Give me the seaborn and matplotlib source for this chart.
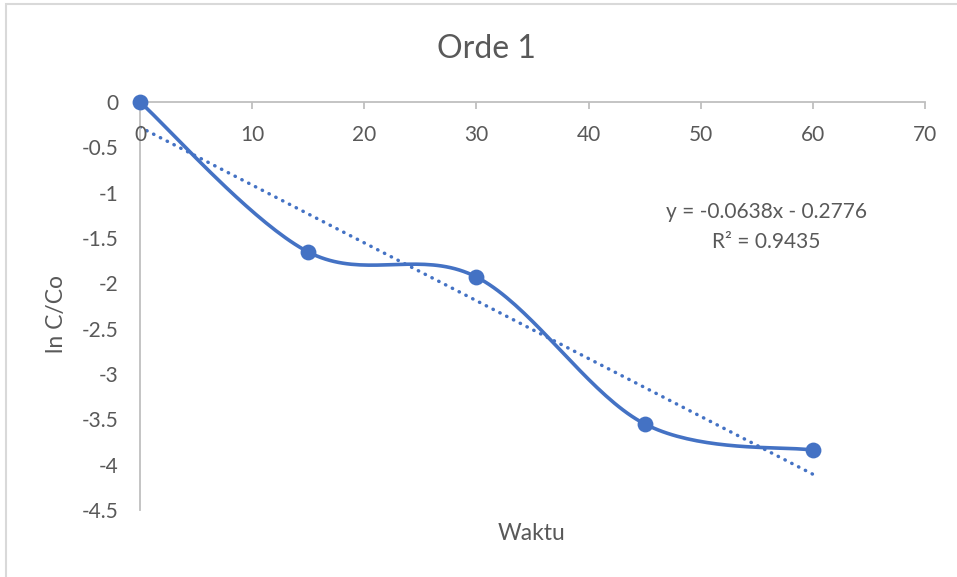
import numpy as np
import pandas as pd
import matplotlib
matplotlib.use("Agg")
import matplotlib.pyplot as plt
import seaborn as sns

# Data
waktu = [0, 15, 30, 45, 60]
ln_c_co = [0, -1.654, -1.93, -3.55, -3.84]
slope = -0.0638
intercept = -0.2776
r_squared = 0.9435
x_ticks = [0, 10, 20, 30, 40, 50, 60, 70]
y_ticks = [0, -0.5, -1, -1.5, -2, -2.5, -3, -3.5, -4, -4.5]

sns.set_theme(style="white")
plt.rcParams["font.family"] = ["Lato", "DejaVu Sans"]

BLUE = "#4472C4"
TEXT = "#595959"
GRID = "#BFBFBF"
TICK_FS = 15

fig = plt.figure(figsize=(9.57, 5.77), dpi=100)
ax = fig.add_axes([140 / 957, 1 - 510 / 577, 785 / 957, 408 / 577])
ax.set_xlim(0, 70)
ax.set_ylim(-4.5, 0)

# chart frame
fig.patches.append(plt.Rectangle((6 / 957, -0.1), 1.2, 1 - 4 / 577 + 0.1,
                                 transform=fig.transFigure, fill=False,
                                 edgecolor="#D9D9D9", linewidth=1.5))


def smooth_curve(xs, ys, ax, n=40):
    """Bezier smoothing through every point (control points at 1/6 of the
    neighbour chord), evaluated in display space."""
    pts = ax.transData.transform(np.column_stack([xs, ys]))
    out = []
    m = len(pts)
    for i in range(m - 1):
        p0 = pts[max(i - 1, 0)]
        p1 = pts[i]
        p2 = pts[i + 1]
        p3 = pts[min(i + 2, m - 1)]
        c1 = p1 + (p2 - p0) / 6.0
        c2 = p2 - (p3 - p1) / 6.0
        t = np.linspace(0, 1, n)[:, None]
        seg = ((1 - t) ** 3) * p1 + 3 * ((1 - t) ** 2) * t * c1 \
            + 3 * (1 - t) * t ** 2 * c2 + t ** 3 * p2
        out.append(seg if i == 0 else seg[1:])
    out = np.vstack(out)
    return ax.transData.inverted().transform(out)


df = pd.DataFrame({"Waktu": waktu, "ln C/Co": ln_c_co})

curve = smooth_curve(np.array(waktu, float), np.array(ln_c_co, float), ax)
ax.plot(curve[:, 0], curve[:, 1], color=BLUE, linewidth=2.6,
        solid_capstyle="round", clip_on=False, zorder=3)
sns.scatterplot(data=df, x="Waktu", y="ln C/Co", ax=ax, color=BLUE, s=130,
                edgecolor=BLUE, linewidth=0, zorder=4, clip_on=False)

# linear trendline (round dots)
tx = np.array([waktu[0], waktu[-1]], float)
ax.plot(tx, slope * tx + intercept, color=BLUE, linewidth=2.5,
        linestyle=(0, (0.1, 2.1)), dash_capstyle="round", zorder=2)

# axes styling: x axis crosses at y = 0 (top edge)
for s in ["bottom", "right"]:
    ax.spines[s].set_visible(False)
for s in ["top", "left"]:
    ax.spines[s].set_color(GRID)
    ax.spines[s].set_linewidth(1.3)

ax.set_xticks(x_ticks)
ax.set_yticks(y_ticks)
ax.set_yticklabels([f"{v:g}" for v in y_ticks])
ax.xaxis.set_ticks_position("top")
ax.tick_params(axis="x", direction="in", length=5, width=1.3, color=GRID,
               labeltop=False, labelbottom=False)
ax.tick_params(axis="y", direction="out", length=5.8, width=1.3, color=GRID,
               labelsize=TICK_FS, labelcolor=TEXT, pad=10)
# x tick labels sit just below the axis line
for xv in x_ticks:
    ax.text(xv, -0.36, f"{xv:g}", ha="center", va="center",
            fontsize=TICK_FS, color=TEXT)

ax.set_xlabel("")
ax.set_ylabel("")
fig.text(532 / 957, 1 - 533 / 577, "Waktu", ha="center", va="center",
         fontsize=16.5, color=TEXT)
fig.text(57 / 957, 1 - 314 / 577, "ln C/Co", ha="center", va="center",
         rotation=90, fontsize=16.5, color=TEXT)
fig.text(486 / 957, 1 - 49 / 577, "Orde 1", ha="center", va="center",
         fontsize=23, color=TEXT)

fig.text(766 / 957, 1 - 212 / 577, f"y = {slope}x - {abs(intercept)}",
         ha="center", va="center", fontsize=15, color=TEXT)
fig.text(766 / 957, 1 - 242 / 577, f"R² = {r_squared}",
         ha="center", va="center", fontsize=15, color=TEXT)

fig.savefig("out.png", dpi=100)
